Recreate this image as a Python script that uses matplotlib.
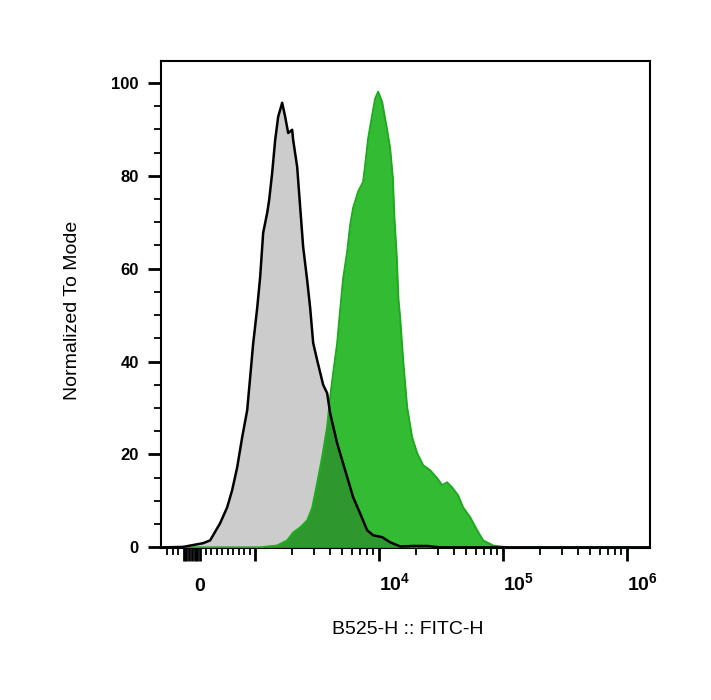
import numpy as np
import matplotlib
matplotlib.use("Agg")
import matplotlib.pyplot as plt
from matplotlib.ticker import FixedLocator, FixedFormatter, NullFormatter

# ---------------- data ----------------
# control sample (gray, black outline)
gray_x = [-700, -309, 55, 182, 364, 491, 582, 673, 764, 855, 909, 964, 1038, 1097,
          1160, 1250, 1297, 1371, 1450, 1533, 1651, 1746, 1846, 1988, 2025, 2182,
          2306, 2438, 2627, 2778, 2937, 3162, 3535, 3807, 4025, 4585, 5319, 6170,
          7026, 8002, 8945, 10573, 12267, 14768, 18804, 24384, 31036, 1.5e6]
gray_y = [0, 0.1, 0.9, 1.5, 5.2, 8.6, 12.3, 17.2, 23.7, 29.5, 36.6, 43.9, 51.5, 58.2,
          67.7, 72.0, 74.8, 80.6, 87.7, 92.7, 95.7, 92.7, 89.2, 89.9, 87.7, 81.9,
          73.3, 64.7, 57.5, 51.5, 44.0, 40.3, 35.0, 33.2, 28.9, 22.4, 16.6, 10.8,
          7.3, 3.7, 2.6, 2.2, 1.1, 0.2, 0.3, 0.3, 0, 0]

# stained sample (green)
green_x = [-700, 1097, 1504, 1812, 2025, 2306, 2627, 2883, 3162, 3470, 3807, 4025,
           4256, 4585, 4848, 5126, 5521, 5838, 6170, 6769, 7430, 7712, 8153, 8780,
           9284, 9815, 10573, 11538, 12267, 12897, 13288, 13892, 14306, 14768,
           15617, 16817, 18455, 20251, 22631, 25782, 29362, 32218, 35346, 38785,
           43365, 47574, 54200, 61697, 68984, 83066, 107730, 1.5e6]
green_y = [0, 0, 0.4, 1.5, 3.2, 4.3, 5.8, 8.5, 13.8, 19.4, 25.9, 32.3,
           37.5, 43.9, 51.1, 57.9, 63.6, 69.4, 73.1, 76.6, 78.7, 82.3, 88.0, 93.0,
           96.6, 98.1, 95.9, 90.2, 85.9, 79.5, 70.9, 62.2, 53.5, 49.5,
           40.3, 30.2, 23.7, 20.3, 17.7, 16.6, 14.9, 13.4, 14.0, 12.9,
           11.2, 8.6, 6.5, 3.7, 1.5, 0.4, 0, 0]

x_major_ticks = [-300, -250, -200, -150, -100, -50, 0, 1e3, 1e4, 1e5, 1e6]
x_major_labels = ["", "", "", "", "", "", r"$\mathbf{0}$", "",
                  r"$\mathbf{10}^{\mathbf{4}}$", r"$\mathbf{10}^{\mathbf{5}}$",
                  r"$\mathbf{10}^{\mathbf{6}}$"]
x_minor_ticks = ([-600, -500, -400, 100, 200, 300, 400, 500, 600, 700, 800, 900]
                 + [m * 10 ** k for k in (3, 4, 5) for m in range(2, 10)])
y_major_ticks = [0, 20, 40, 60, 80, 100]
y_major_labels = ["0", "20", "40", "60", "80", "100"]
y_minor_ticks = [v for v in range(5, 100, 5) if v % 20 != 0]

x_label = "B525-H :: FITC-H"
y_label = "Normalized To Mode"

# ---------------- style ----------------
plt.rcParams["font.family"] = ["Liberation Sans", "DejaVu Sans"]
plt.rcParams["mathtext.fontset"] = "custom"
plt.rcParams["mathtext.rm"] = "Liberation Sans"
plt.rcParams["mathtext.bf"] = "Liberation Sans:bold"
plt.rcParams["mathtext.it"] = "Liberation Sans:italic"

fig = plt.figure(figsize=(7.11, 7.0), dpi=100)
ax = fig.add_axes([161 / 711, 1 - 548.3 / 700, 489 / 711, 487.3 / 700])
ax.set_xscale("symlog", linthresh=1000, linscale=0.4, base=10)

GRAY = "#cccccc"
GREEN = "#34bb34"
GREEN_EDGE = "#1eaa1e"
OVERLAP = "#2e982e"

ax.fill_between(gray_x, 0, gray_y, color=GRAY, lw=0, zorder=1)
ax.fill_between(green_x, 0, green_y, color=GREEN, lw=0, zorder=2)

# overlap of the two histograms (darker green)
lg = np.linspace(3.0, 5.0, 800)
gx = np.log10(np.clip(np.array(gray_x, float), 1, None))
rx = np.log10(np.clip(np.array(green_x, float), 1, None))
g_i = np.interp(lg, gx, gray_y)
r_i = np.interp(lg, rx, green_y)
ax.fill_between(10 ** lg, 0, np.minimum(g_i, r_i), color=OVERLAP, lw=0, zorder=3)

ax.plot(green_x, green_y, color=GREEN_EDGE, lw=1.4, zorder=4)
ax.plot(gray_x, gray_y, color="black", lw=1.8, zorder=5)

ax.set_xlim(-709, 1.53e6)
ax.set_ylim(-0.2, 104.7)

ax.xaxis.set_major_locator(FixedLocator(x_major_ticks))
ax.xaxis.set_major_formatter(FixedFormatter(x_major_labels))
ax.xaxis.set_minor_locator(FixedLocator(x_minor_ticks))
ax.xaxis.set_minor_formatter(NullFormatter())
ax.yaxis.set_major_locator(FixedLocator(y_major_ticks))
ax.yaxis.set_major_formatter(FixedFormatter(y_major_labels))
ax.yaxis.set_minor_locator(FixedLocator(y_minor_ticks))
ax.yaxis.set_minor_formatter(NullFormatter())

ax.tick_params(which="major", direction="out", length=9.4, width=2.0,
               color="black")
ax.tick_params(which="minor", direction="out", length=4.7, width=1.3,
               color="black")
ax.tick_params(axis="y", which="major", pad=6.5, labelsize=12)
ax.tick_params(axis="x", which="major", pad=21, labelsize=14)
for lab in ax.get_yticklabels():
    lab.set_fontweight("bold")

for s in ax.spines.values():
    s.set_linewidth(1.5)
    s.set_color("black")

fig.canvas.draw()
for tick, loc in zip(ax.xaxis.get_major_ticks(), x_major_ticks):
    tick.label1.set_verticalalignment("baseline")
    tick.label1.set_fontsize(14)
    if loc >= 1e4:
        tick.label1.set_horizontalalignment("left")

ax.set_xlabel(x_label, fontsize=14)
ax.xaxis.set_label_coords(0.504, -0.150)
ax.set_ylabel(y_label, fontsize=14)
ax.yaxis.set_label_coords(-0.1636, 0.489)

fig.savefig("out.png", dpi=100)
